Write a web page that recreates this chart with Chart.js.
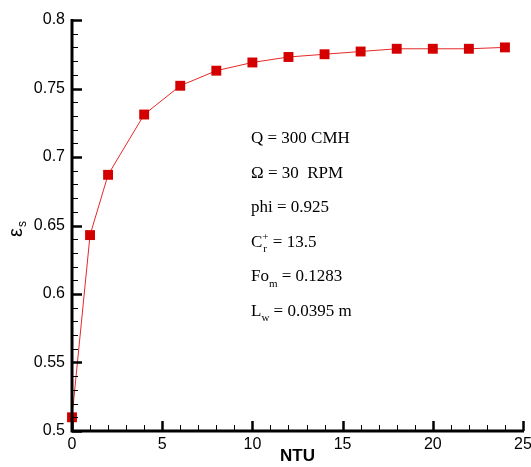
<!DOCTYPE html>
<html>
<head>
<meta charset="utf-8">
<script src="https://cdn.jsdelivr.net/npm/chart.js@4.4.0/dist/chart.umd.min.js"></script>
<style>
  html, body { margin: 0; padding: 0; background: #fff; }
  #wrap { width: 531px; height: 467px; }
</style>
</head>
<body>
<div id="wrap"><canvas id="myChart" width="531" height="467"></canvas></div>
<script>
// values
const ntu = [0, 1, 2, 4, 6, 8, 10, 12, 14, 16, 18, 20, 22, 24];
const effectiveness = [0.510, 0.643, 0.687, 0.731, 0.752, 0.763, 0.769, 0.773, 0.775, 0.777, 0.779, 0.779, 0.779, 0.780];
const xRange = [0, 25];
const yRange = [0.5, 0.8];
const notes = [
    [['Q = 300 CMH', '']],
    [['\u03A9 = 30  RPM', '']],
    [['phi = 0.925', '']],
    [['C', ''], ['+', 'sup', 'r'], [' = 13.5', '']],
    [['Fo', ''], ['m', 'sub'], [' = 0.1283', '']],
    [['L', ''], ['w', 'sub'], [' = 0.0395 m', '']]
];

// inward tick marks, axis title with subscript, and text block
const decorations = {
    id: 'decorations',
    afterDraw(chart) {
        const ctx = chart.ctx;
        const xs = chart.scales.x, ys = chart.scales.y;
        const area = chart.chartArea;
        ctx.save();
        ctx.strokeStyle = '#000';
        // x ticks
        for (let v = xRange[0]; v <= xRange[1]; v++) {
            const px = Math.round(xs.getPixelForValue(v)) + 0.5;
            const major = v % 5 === 0;
            ctx.lineWidth = major ? 2.5 : 1;
            ctx.beginPath();
            ctx.moveTo(px, area.bottom);
            ctx.lineTo(px, area.bottom - (major ? 10 : 6));
            ctx.stroke();
        }
        // y ticks
        for (let i = 0; i <= 30; i++) {
            const v = yRange[0] + i * 0.01;
            const py = Math.round(ys.getPixelForValue(v)) + 0.5;
            const major = i % 5 === 0;
            ctx.lineWidth = major ? 2.5 : 1;
            ctx.beginPath();
            ctx.moveTo(area.left, py);
            ctx.lineTo(area.left + (major ? 10 : 6), py);
            ctx.stroke();
        }
        // axis lines
        ctx.lineWidth = 3;
        ctx.beginPath();
        ctx.moveTo(area.left, area.top - 1);
        ctx.lineTo(area.left, area.bottom);
        ctx.lineTo(area.right + 1, area.bottom);
        ctx.stroke();

        // y axis title: epsilon with subscript s
        ctx.fillStyle = '#000';
        ctx.translate(22, 232);
        ctx.rotate(-Math.PI / 2);
        ctx.textBaseline = 'alphabetic';
        ctx.textAlign = 'left';
        ctx.font = '20px "Liberation Sans"';
        ctx.fillText('\u03B5', -5, 0);
        const ew = ctx.measureText('\u03B5').width;
        ctx.font = '12px "Liberation Sans"';
        ctx.fillText('s', -5 + ew + 1, 4);
        ctx.setTransform(1, 0, 0, 1, 0, 0);

        // notes
        const left = 251, top = 139, gap = 34.5;
        ctx.textBaseline = 'middle';
        notes.forEach((parts, row) => {
            let x = left;
            const y = top + row * gap;
            parts.forEach(p => {
                if (p[1] === 'sub') {
                    ctx.font = '11px "Liberation Serif"';
                    ctx.fillText(p[0], x, y + 7);
                    x += ctx.measureText(p[0]).width;
                } else if (p[1] === 'sup') {
                    ctx.font = '11px "Liberation Serif"';
                    ctx.fillText(p[0], x, y - 5);
                    const w1 = ctx.measureText(p[0]).width;
                    ctx.fillText(p[2], x + 1, y + 7);
                    const w2 = ctx.measureText(p[2]).width;
                    x += Math.max(w1, w2);
                } else {
                    ctx.font = '17px "Liberation Serif"';
                    ctx.fillText(p[0], x, y);
                    x += ctx.measureText(p[0]).width;
                }
            });
        });
        ctx.restore();
    }
};

const points = ntu.map((x, i) => ({x: x, y: effectiveness[i]}));

new Chart(document.getElementById('myChart').getContext('2d'), {
    type: 'line',
    data: {
        datasets: [{
            data: points,
            borderColor: 'rgb(230, 40, 40)',
            borderWidth: 1,
            backgroundColor: 'rgb(212, 0, 0)',
            pointBackgroundColor: 'rgb(212, 0, 0)',
            pointBorderColor: 'rgb(212, 0, 0)',
            pointBorderWidth: 0,
            pointStyle: 'rect',
            pointRadius: 7,
            tension: 0,
            clip: false
        }]
    },
    options: {
        responsive: false,
        animation: false,
        layout: { padding: { left: 0, right: 0, top: 20, bottom: 0 } },
        plugins: { legend: { display: false }, tooltip: { enabled: false } },
        scales: {
            x: {
                type: 'linear',
                min: xRange[0],
                max: xRange[1],
                grid: { display: false, drawTicks: false },
                border: { display: false },
                ticks: {
                    stepSize: 5,
                    padding: 4,
                    color: '#000',
                    font: { family: '"Liberation Sans"', size: 16 }
                },
                title: {
                    display: true,
                    text: 'NTU',
                    color: '#000',
                    padding: { top: 3, bottom: 0 },
                    font: { family: '"Liberation Sans"', size: 17, weight: 'bold' }
                },
                afterFit(scale) {
                    scale.height = 36;
                    scale.paddingLeft = 0;
                    scale.paddingRight = 8;
                }
            },
            y: {
                min: yRange[0],
                max: yRange[1],
                grid: { display: false, drawTicks: false },
                border: { display: false },
                ticks: {
                    stepSize: 0.05,
                    padding: 7,
                    color: '#000',
                    font: { family: '"Liberation Sans"', size: 16 },
                    callback: v => String(+v.toFixed(2))
                },
                afterFit(scale) {
                    scale.width = 72;
                    scale.paddingTop = 0;
                    scale.paddingBottom = 0;
                }
            }
        }
    },
    plugins: [decorations]
});
</script>
</body>
</html>
